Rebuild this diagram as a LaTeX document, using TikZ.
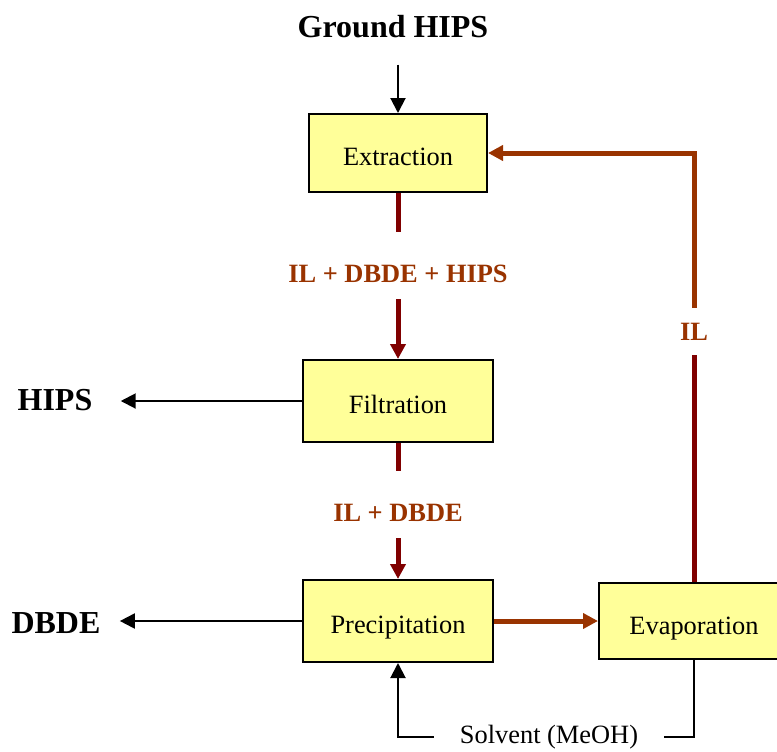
\documentclass[tikz,border=0pt]{standalone}
\usepackage{fontspec}
\setmainfont{Liberation Serif}
\usetikzlibrary{arrows.meta,positioning}
\definecolor{boxyellow}{HTML}{FFFF99}
\definecolor{flowred}{HTML}{800000}
\definecolor{flowbrown}{HTML}{993300}

\begin{document}
\begin{tikzpicture}[
    x=0.5pt, y=-0.5pt,
    font=\fontsize{13.2}{16}\selectfont,
    unit/.style={draw, fill=boxyellow, minimum width=95pt, minimum height=41pt, line width=1pt, text height=12pt, text depth=0pt},
    stream/.style={font=\fontsize{13.2}{16}\selectfont\bfseries, text=flowbrown, inner sep=0pt},
    product/.style={font=\fontsize{16}{19}\selectfont\bfseries, inner sep=0pt},
    flowtip/.style={-{Triangle[length=7.5pt,width=7.5pt]}},
    feedline/.style={flowtip, line width=1pt},
    redline/.style={flowred, line width=2.5pt},
    brownline/.style={flowbrown, line width=2.5pt}
]
\useasboundingbox (0,0) rectangle (777,751);

\node[unit, minimum width=89pt, minimum height=39pt] (extract) at (398,153) {Extraction};
\node[unit, below=83pt of extract] (filter) {Filtration};
\node[unit, below=68pt of filter] (precip) {Precipitation};
\node[unit, right=52pt of precip, minimum height=38pt, text height=13pt] (evap) {Evaporation};

\node[product] (ground) at (393,27) {Ground HIPS};
\node[product] (hips) at (55,400) {HIPS};
\node[product] (dbde) at (56,623) {DBDE};

\node[stream] (mix1) at (398,274) {IL + DBDE + HIPS};
\node[stream] (mix2) at (398,513) {IL + DBDE};
\node[stream] (ilrec) at (694,332) {IL};
\node[inner xsep=13pt, inner ysep=0pt] (solvent) at (549,737) {Solvent (MeOH)};

% feed and products
\draw[feedline, shorten <=13pt] (ground.south -| extract.north) -- (extract.north);
\draw[feedline, shorten >=14pt] (filter.west) -- (hips.east |- filter.west);
\draw[feedline, shorten >=9.5pt] (precip.west) -- (dbde.east |- precip.west);

% main line
\foreach \a/\s/\b in {extract/mix1/filter, filter/mix2/precip} {
  \draw[redline, shorten >=16.5pt] (\a) -- (\s);
  \draw[redline, flowtip, shorten <=8pt] (\s) -- (\b);
}
\draw[brownline, flowtip] (precip.east) -- (evap.west);

% IL recycle
\draw[redline, shorten >=7pt] (evap.north) -- (ilrec.south);
\draw[brownline, flowtip, shorten <=7.5pt] (ilrec.north) |- (extract.east);

% solvent loop
\draw[line width=1pt] (evap.south) |- (solvent.east);
\draw[feedline] (solvent.west) -| (precip.south);
\end{tikzpicture}
\end{document}
